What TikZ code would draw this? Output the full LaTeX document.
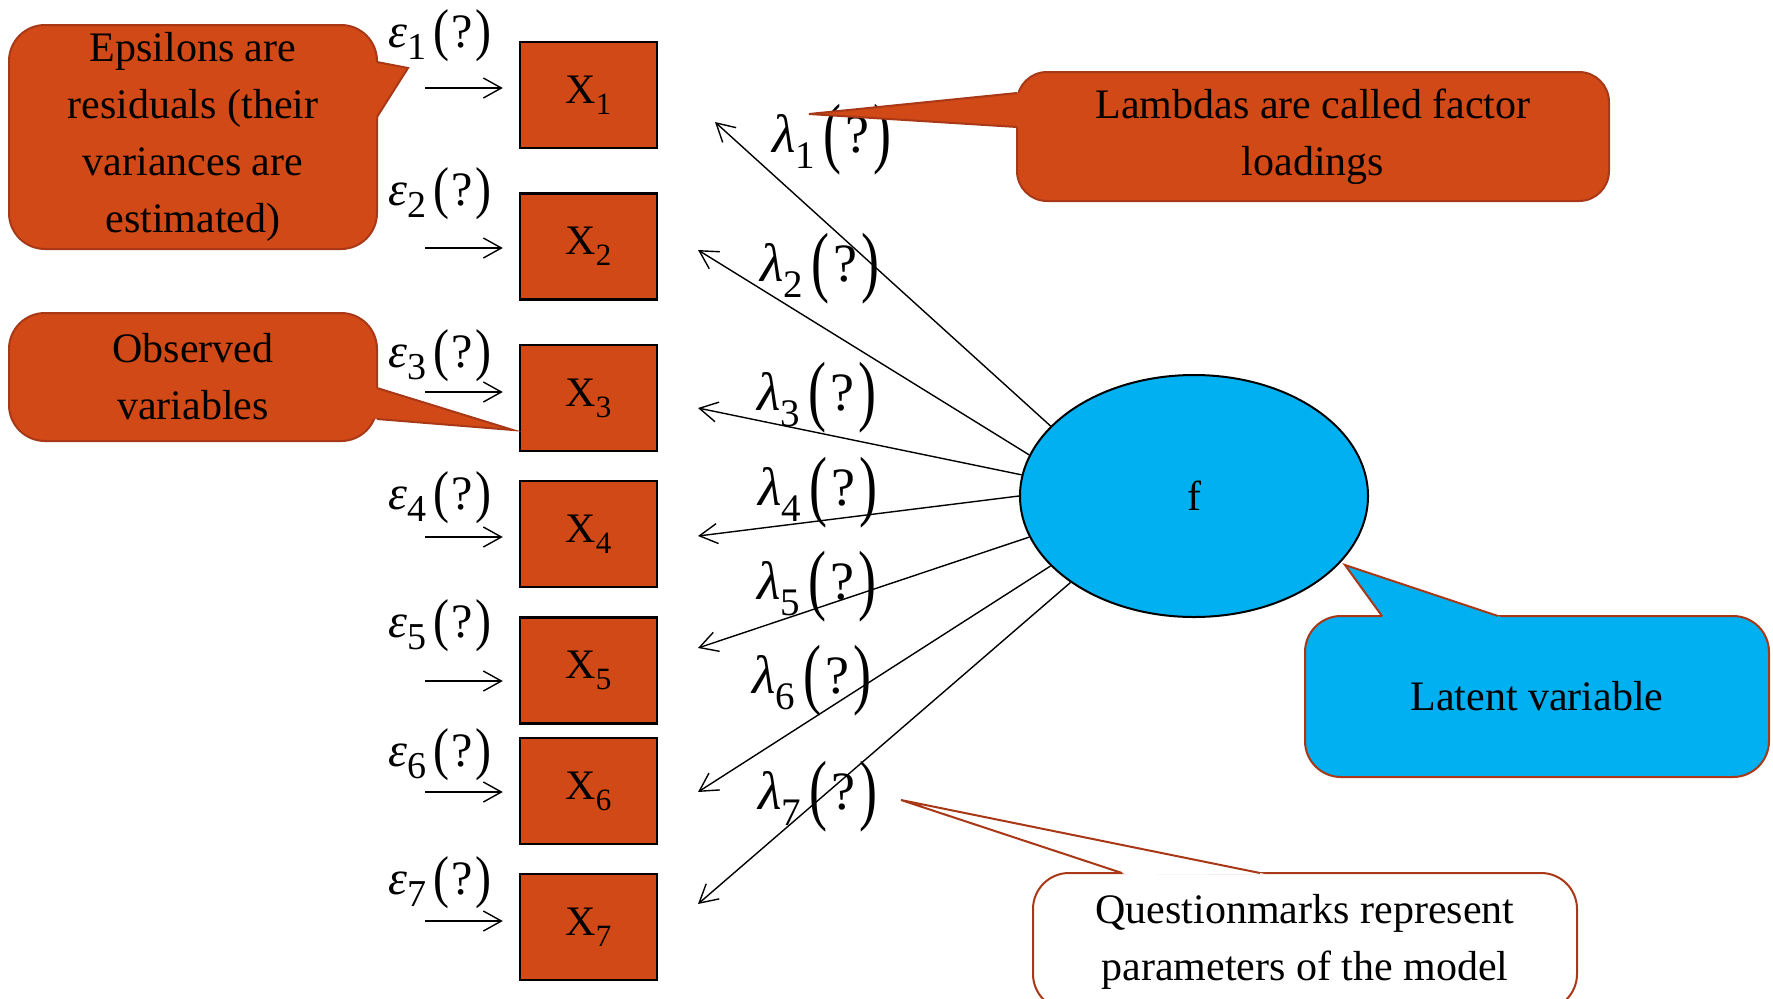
\documentclass[tikz,border=0pt]{standalone}
\usepackage{fontspec}
\setmainfont{Liberation Serif}
\usepackage{graphicx}
\usetikzlibrary{shapes.geometric,arrows.meta,calc}

\definecolor{calloutorange}{RGB}{209,73,22}
\definecolor{calloutedge}{RGB}{168,56,22}
\definecolor{latentblue}{RGB}{0,176,240}

\newcommand\epslabel[1]{\fontsize{24}{24}\selectfont{\itshape ε}\raisebox{-6pt}{\fontsize{19}{19}\selectfont #1}\hspace{3.5pt}\raisebox{-0.06em}{\scalebox{1}[1.2]{(}}\hspace{1pt}?\hspace{1pt}\raisebox{-0.06em}{\scalebox{1}[1.2]{)}}}
\newcommand\lamlabel[1]{\fontsize{27}{27}\selectfont{\itshape λ}\raisebox{-8pt}{\fontsize{19.5}{19.5}\selectfont #1}\hspace{4pt}\raisebox{-0.12em}{\scalebox{1}[1.45]{(}}\hspace{2pt}?\hspace{2pt}\raisebox{-0.12em}{\scalebox{1}[1.45]{)}}}
\newcommand\xlabel[1]{X\raisebox{-5.5pt}{\fontsize{15.5}{15.5}\selectfont #1}}

\tikzset{
  obsbox/.style={draw=black, line width=1.2pt, fill=calloutorange, minimum width=68.5pt, minimum height=53pt, inner sep=0pt, font=\fontsize{21}{21}\selectfont},
  latentnode/.style={ellipse, draw=black, line width=1pt, fill=latentblue, minimum width=174pt, minimum height=121pt, inner sep=0pt, font=\fontsize{21}{21}\selectfont},
  calloutbox/.style={rounded corners=18pt, fill=calloutorange, draw=calloutedge, line width=1pt, align=center, inner sep=0pt, font=\fontsize{21}{28.5}\selectfont},
  pointeredge/.style={draw=calloutedge, line width=1pt, line join=miter},
  arr/.style={-{Straight Barb[length=9pt,width=10pt]}, line width=0.7pt},
  lab/.style={inner sep=0pt, anchor=base},
}

\begin{document}
\begin{tikzpicture}[x=0.5pt,y=-0.5pt]
\fill[white] (0,0) rectangle (1773,998);
\useasboundingbox (0,0) rectangle (1773,998);

% observed variables
\node[obsbox] (X1) at (588.5,95) {\xlabel{1}};
\node[obsbox] (X2) at (588.5,246.5) {\xlabel{2}};
\node[obsbox] (X3) at (588.5,398) {\xlabel{3}};
\node[obsbox] (X4) at (588.5,534) {\xlabel{4}};
\node[obsbox] (X5) at (588.5,670.5) {\xlabel{5}};
\node[obsbox] (X6) at (588.5,791) {\xlabel{6}};
\node[obsbox] (X7) at (588.5,927) {\xlabel{7}};

% latent variable
\node[latentnode] (f) at (1194,496) {f};

% epsilon labels and arrows
\node[lab] (e1) at (440,47) {\epslabel{1}};
\node[lab] (e2) at (440,205) {\epslabel{2}};
\node[lab] (e3) at (440,367) {\epslabel{3}};
\node[lab] (e4) at (440,509) {\epslabel{4}};
\node[lab] (e5) at (440,637) {\epslabel{5}};
\node[lab] (e6) at (440,766) {\epslabel{6}};
\node[lab] (e7) at (440,894) {\epslabel{7}};

\coordinate (es1) at (425,88);
\coordinate (es2) at (425,248);
\coordinate (es3) at (425,392);
\coordinate (es4) at (425,537);
\coordinate (es5) at (425,681);
\coordinate (es6) at (425,792);
\coordinate (es7) at (425,921);
\foreach \i in {1,...,7}{
  \draw[arr, shorten >=8pt] (es\i) -- (es\i -| X\i.west);
}

% lambda arrows
\coordinate (l1) at (715,122);
\coordinate (l2) at (698,250);
\coordinate (l3) at (698,408);
\coordinate (l4) at (698,536);
\coordinate (l5) at (698,648);
\coordinate (l6) at (698,792);
\coordinate (l7) at (698,904);
\draw[arr] (f.154) -- (l1);
\draw[arr] (f.166) -- (l2);
\draw[arr] (f.173) -- (l3);
\draw[arr] (f.180) -- (l4);
\draw[arr] (f.194) -- (l5);
\draw[arr] (f.206) -- (l6);
\draw[arr] (f.215) -- (l7);

% lambda labels
\node[lab] (lab1) at (832,152) {\lamlabel{1}};
\node[lab] (lab2) at (820,281) {\lamlabel{2}};
\node[lab] (lab3) at (817,410) {\lamlabel{3}};
\node[lab] (lab4) at (818,505) {\lamlabel{4}};
\node[lab] (lab5) at (817,599) {\lamlabel{5}};
\node[lab] (lab6) at (812,693) {\lamlabel{6}};
\node[lab] (lab7) at (818,809) {\lamlabel{7}};

% callout: epsilons
\node[calloutbox, minimum width=184pt, minimum height=112pt] (c1) at (193,137)
  {Epsilons are\\residuals (their\\variances are\\estimated)};
\coordinate (c1a) at (377,62);
\coordinate (c1t) at (408,68);
\coordinate (c1b) at (377,117);
\fill[calloutorange] ($(c1a)!-3pt!(c1t)$) -- (c1t) -- ($(c1b)!-3pt!(c1t)$) -- cycle;
\draw[pointeredge] (c1a) -- (c1t) -- (c1b);

% callout: observed variables
\node[calloutbox, minimum width=184pt, minimum height=64pt] (c2) at (193,377)
  {Observed\\variables};
\coordinate (c2a) at (377,388);
\coordinate (c2t) at (513,430);
\coordinate (c2b) at (377,419);
\fill[calloutorange] ($(c2a)!-3pt!(c2t)$) -- (c2t) -- ($(c2b)!-3pt!(c2t)$) -- cycle;
\draw[pointeredge] (c2a) -- (c2t) -- (c2b);

% callout: lambdas
\node[calloutbox, rounded corners=15pt, minimum width=296pt, minimum height=64.5pt] (c3) at (1313,136.5)
  {Lambdas are called factor\\loadings};
\coordinate (c3a) at (1017,93);
\coordinate (c3t) at (809,114);
\coordinate (c3b) at (1017,127);
\fill[calloutorange] ($(c3a)!-3pt!(c3t)$) -- (c3t) -- ($(c3b)!-3pt!(c3t)$) -- cycle;
\draw[pointeredge] (c3a) -- (c3t) -- (c3b);

% callout: latent variable
\node[calloutbox, fill=latentblue, minimum width=232pt, minimum height=80.5pt] (c4) at (1537,696.5)
  {Latent variable};
\coordinate (c4a) at (1382,616);
\coordinate (c4t) at (1345,565);
\coordinate (c4b) at (1498,616);
\fill[latentblue] ($(c4a)!-3pt!(c4t)$) -- (c4t) -- ($(c4b)!-3pt!(c4t)$) -- cycle;
\draw[pointeredge] (c4a) -- (c4t) -- (c4b);

% callout: questionmarks
\node[calloutbox, fill=white, minimum width=272pt, minimum height=68.5pt] (c5) at (1305,941.5)
  {Questionmarks represent\\parameters of the model};
\coordinate (c5a) at (1122,873);
\coordinate (c5t) at (901,800);
\coordinate (c5b) at (1260,873);
\fill[white] ($(c5a)!-3pt!(c5t)$) -- (c5t) -- ($(c5b)!-3pt!(c5t)$) -- cycle;
\draw[pointeredge] (c5a) -- (c5t) -- (c5b);
\end{tikzpicture}
\end{document}
